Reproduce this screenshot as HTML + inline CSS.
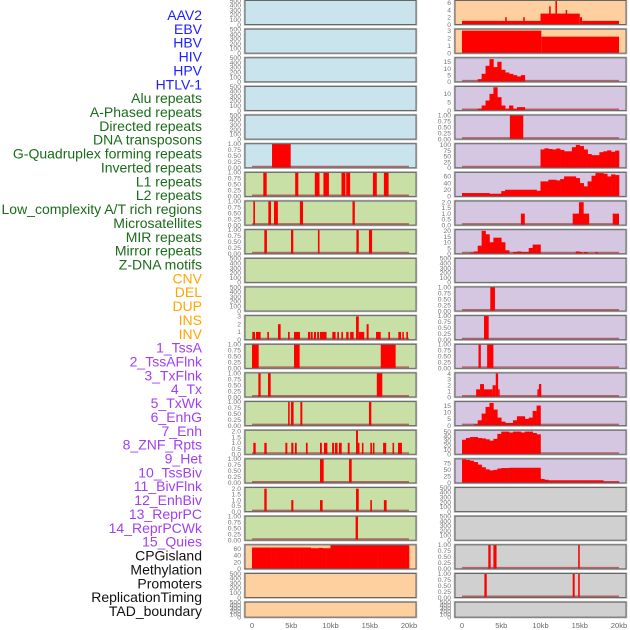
<!DOCTYPE html>
<html><head><meta charset="utf-8"><style>
html,body{margin:0;padding:0;background:#fff;width:630px;height:630px;overflow:hidden}
svg{display:block;font-family:"Liberation Sans",sans-serif}
</style></head><body>
<svg id="chart" width="630" height="630" viewBox="0 0 630 630" xmlns="http://www.w3.org/2000/svg"></svg>
<script>
// ---- data ----
const trackLabels = ["AAV2","EBV","HBV","HIV","HPV","HTLV-1","Alu repeats","A-Phased repeats","Directed repeats","DNA transposons","G-Quadruplex forming repeats","Inverted repeats","L1 repeats","L2 repeats","Low_complexity A/T rich regions","Microsatellites","MIR repeats","Mirror repeats","Z-DNA motifs","CNV","DEL","DUP","INS","INV","1_TssA","2_TssAFlnk","3_TxFlnk","4_Tx","5_TxWk","6_EnhG","7_Enh","8_ZNF_Rpts","9_Het","10_TssBiv","11_BivFlnk","12_EnhBiv","13_ReprPC","14_ReprPCWk","15_Quies","CPGisland","Methylation","Promoters","ReplicationTiming","TAD_boundary"];
const labelGroups = ["virus","virus","virus","virus","virus","virus","repeat","repeat","repeat","repeat","repeat","repeat","repeat","repeat","repeat","repeat","repeat","repeat","repeat","sv","sv","sv","sv","sv","chrom","chrom","chrom","chrom","chrom","chrom","chrom","chrom","chrom","chrom","chrom","chrom","chrom","chrom","chrom","other","other","other","other","other"];
const xTickValues = [0,5,10,15,20];
const xTickLabels = ["0","5kb","10kb","15kb","20kb"];

// left column interval data [startKb, endKb, value]
const leftG = [[2.55,4.93,1]];
const leftInv = [[1.44,1.87,1],[5.5,5.9,1],[8.0,8.6,1],[9.1,9.8,1],[11.4,11.9,1],[12.0,12.5,1],[15.4,15.9,1],[16.8,17.4,1]];
const leftL1 = [[0.17,0.38,1],[2.08,2.42,1],[2.8,3.3,1],[6.1,6.5,1],[12.8,13.1,1]];
const leftL2 = [[1.57,1.9,1],[4.97,5.26,1],[8.4,8.6,1],[13.3,13.6,1],[14.9,15.3,1]];
const leftInvSv = [[0.04,0.38,1],[0.51,1.1,1],[1.95,2.16,1],[3.31,3.65,2],[4.59,4.8,1],[5.35,6.11,1],[7.13,7.39,1],[7.47,7.73,1],[7.9,8.15,1],[8.3,8.54,1],[8.66,9.5,1],[10.23,10.65,1],[10.87,11.08,1],[11.38,11.59,1],[12.0,12.3,1],[12.5,12.95,1],[13.25,13.6,3],[13.6,14.3,1],[14.6,14.86,2],[15.8,16.4,1],[17.37,17.58,1],[18.64,18.98,1],[19.15,19.32,1],[19.66,19.87,1]];
const leftTssA = [[0,0.85,1],[5.35,6.07,1],[16.4,18.3,1]];
const leftTssAFlnk = [[0.81,1.1,1],[2.04,2.38,1],[15.9,16.6,1]];
const leftTxFlnk = [[4.6,4.8,1],[4.97,5.3,1],[6.16,6.41,1],[14.9,15.2,1]];
const leftTx = [[0.17,0.47,1],[1.57,1.87,1],[4.25,4.5,1],[5.0,5.27,1],[5.47,5.7,1],[6.87,7.09,1],[8.66,8.9,1],[9.17,9.6,1],[10.2,10.45,1],[10.57,10.9,1],[11.08,11.43,1],[12.2,12.44,1],[13.25,13.5,2.1],[13.5,13.6,1],[14.0,14.2,1],[15.07,15.28,1],[15.4,15.6,1],[16.7,17.1,1],[17.9,18.1,1],[18.6,19.1,1]];
const leftTxWk = [[8.66,9.13,1],[12.36,12.7,1]];
const leftEnhG = [[1.57,1.87,2],[5.0,5.27,1],[8.66,9.0,1],[13.25,13.6,2],[15.07,15.28,1],[16.8,17.15,1]];
const leftEnh = [[13.2,13.5,1]];
const cpgProfile = [63,63,63,63,63,63,63,63,63,63,63,63,63,63,63,61,61,62,61,61,70,70,70,70,70,70,70,70,70,70,70,70,70,70,70,70,70,70,70,70];

// right column data
const aav2Bars = [[0,10,1],[5.5,5.7,2],[7.8,8.0,2],[10,15,3],[11.1,11.3,5],[11.9,12.1,6.5],[13.2,13.4,4],[15,15.3,2],[15.3,20,1]];
const ebvBars = [[0,10.1,3],[10.1,20,2.2]];
const hivProfile = [2,6,12,17,11,15,9,7,6,5,4,5];
const hpvProfile = [1,3,6,10,14,8,3,1,3,1,2,2];
const directedBars = [[6.1,7.8,1]];
const dnaProfile = [80,85,82,80,84,78,72,72,90,100,95,80,60,55,55,68,72,76,70,75];
const gquadProfile = [10,10,10,10,10,10,10,8,8,8,16,20,20,20,20,20,20,20,20,17,45,45,50,50,48,52,60,60,60,55,40,30,45,62,70,70,68,60,66,64];
const invertedBars = [[7.5,8.0,1],[14.1,16.2,1],[14.9,15.5,2],[19.2,20,1]];
const l1Profile = [1,2,7,20,17,10,14,14,10,3,0,1.5,2,1.5,1.5,5,8,8];
const l1Bars = [[14.5,15.0,2],[15.0,15.3,1.5],[15.5,16.0,1.5],[17.0,17.3,1.5]];
const lowCompBars = [[3.6,4.2,1]];
const microBars = [[2.8,3.4,1]];
const mirBars = [[2.1,2.4,1],[3.2,4.0,1]];
const mirrorBars = [[1.8,2.3,1.3],[2.3,2.8,2.2],[2.8,3.9,1.3],[3.9,4.3,2],[4.3,4.6,4],[4.6,4.8,1.3],[9.6,9.8,1.3],[9.8,10.1,2.2]];
const zdnaProfile = [1,4,9,14,17,12,6,3,2,2,4,7,7,5,6,11,15];
const cnvProfile = [32,36,38,38,36,35,33,30,34,45,50,50,48,50,50,48,50,50,47,44];
const delProfile = [90,88,85,80,70,60,52,48,50,55,57,57,58,58,58,58,58,58,58,58,15,12,10,10,10,10,10,10,10,10,10,10,10,10,10,10,5,5,5,5];
const rInvBars = [[3.35,3.65,1],[4.0,4.4,1],[14.8,15.0,1]];
const rTssABars = [[2.85,3.15,1],[14.1,14.35,1],[14.8,15.0,1]];

const T01 = [0,0.25,0.5,0.75,1], T02 = [0,0.5,1,1.5,2], TE = [0,100,200,300,400,500];
// ---- layout ----
const BG = {b:"#c9e4ec",g:"#c8e0a6",o:"#ffd09f",p:"#d5c6e2",y:"#d0d0d0"};
function P(bg,max,ticks,dec,bars,prof,start,extra){return {bg,max,ticks,dec,bars,prof,start,extra};}
const leftPanels = [
 P("b",500,TE,0),P("b",500,TE,0),P("b",500,TE,0),P("b",500,TE,0),P("b",500,TE,0),
 P("b",1,T01,2,leftG),P("g",1,T01,2,leftInv),P("g",1,T01,2,leftL1),P("g",1,T01,2,leftL2),
 P("g",500,TE,0),P("g",500,TE,0),P("g",3.1,[0,1,2,3],0,leftInvSv),
 P("g",1,T01,2,leftTssA),P("g",1,T01,2,leftTssAFlnk),P("g",1,T01,2,leftTxFlnk),
 P("g",2.1,T02,1,leftTx),P("g",1,T01,2,leftTxWk),P("g",2.1,T02,1,leftEnhG),P("g",1,T01,2,leftEnh),
 P("o",71,[0,20,40,60],0,null,cpgProfile,0,true),P("o",500,TE,0),P("o",500,TE,0)
];
const rightPanels = [
 P("o",6.6,[0,2,4,6],0,aav2Bars,null,0,true),P("o",3.2,[0,1,2,3],0,ebvBars,null,0,true),
 P("p",18,[0,5,10,15],0,null,hivProfile,2.0),P("p",14.5,[0,5,10],0,null,hpvProfile,2.0),
 P("p",1,T01,2,directedBars),P("p",105,[0,25,50,75,100],0,null,dnaProfile,10.0),
 P("p",72,[0,20,40,60],0,null,gquadProfile,0),P("p",2.1,T02,1,invertedBars),
 P("p",21,[0,5,10,15,20],0,l1Bars,l1Profile,1.0),P("p",500,TE,0),
 P("p",1,T01,2,lowCompBars),P("p",1,T01,2,microBars),P("p",1,T01,2,mirBars),
 P("p",4.1,[0,1,2,3,4],0,mirrorBars),P("p",18,[0,5,10,15],0,null,zdnaProfile,1.5),
 P("p",53,[0,10,20,30,40,50],0,null,cnvProfile,0),P("p",92,[0,25,50,75],0,null,delProfile,0),
 P("y",500,TE,0),P("y",500,TE,0),P("y",1,T01,2,rInvBars),P("y",1,T01,2,rTssABars),P("y",500,TE,0)
];
const svg = document.getElementById('chart');
const NS = "http://www.w3.org/2000/svg";
function mk(tag, attrs, parent){const e=document.createElementNS(NS,tag);for(const k in attrs)e.setAttribute(k,attrs[k]);(parent||svg).appendChild(e);return e;}
const LC = {virus:"#2020ff",repeat:"#1a6b1a",sv:"#ffa500",chrom:"#a040f0",other:"#111"};
trackLabels.forEach((t,i)=>{
  const e = mk('text',{x:202,y:15+i*13.86+5,'text-anchor':'end','font-size':'14',fill:LC[labelGroups[i]]});
  e.textContent = t;
  
  
});
const PW = 171, pitch = 28.65;
function drawCol(panels, x0, side){
  const xs = kb => x0 + 7 + kb*157/20;
  panels.forEach((p,i)=>{
    const top = i*pitch + 0.5, h = (i===21?15:24), bot = top+h;
    const g = mk('g',{});
    
    
    mk('rect',{x:x0-0.5,y:top-0.5,width:PW+1,height:h+1,fill:'none',stroke:'#bbb','stroke-width':1.5},g);
    mk('rect',{x:x0,y:top,width:PW,height:h,fill:BG[p.bg]},g);
    const ys = v => bot - Math.min(v,p.max)/p.max*h;
    const empty = !p.bars && !p.prof;
    if(!empty && !p.extra) mk('line',{x1:xs(0),x2:xs(20),y1:bot-1.2,y2:bot-1.2,stroke:'#b04848','stroke-width':1.5,opacity:0.8},g);
    if(p.prof){
      p.prof.forEach((v,k)=>{
        if(v<=0) return;
        const s = p.start + k*0.5;
        const r = mk('rect',{x:xs(s),y:ys(v),width:xs(s+0.5)-xs(s)+0.3,height:bot-ys(v),fill:'#ff0000'},g);
        
        
      });
    }
    if(p.bars){
      p.bars.forEach(b=>{
        const r = mk('rect',{x:xs(b[0]),y:ys(b[2]),width:Math.max(1.5,xs(b[1])-xs(b[0])),height:bot-ys(b[2]),fill:'#ff0000'},g);
        
        
      });
    }
    mk('rect',{x:x0,y:top,width:PW,height:h,fill:'none',stroke:'#666','stroke-width':1},g);
    p.ticks.forEach(v=>{
      const t = mk('text',{x:x0-4,y:ys(v)+2.3,'text-anchor':'end','font-size':'6.8',fill:'#777'},g);
      t.textContent = v.toFixed(p.dec);
      
      
    });
  });
  xTickValues.forEach((v,k)=>{
    const t = mk('text',{x:xs(v),y:628,'text-anchor':'middle','font-size':'7.5',fill:'#666'});
    t.textContent = xTickLabels[k];
    
    
  });
}
drawCol(leftPanels, 245, 'left');
drawCol(rightPanels, 455, 'right');
</script>
</body></html>
